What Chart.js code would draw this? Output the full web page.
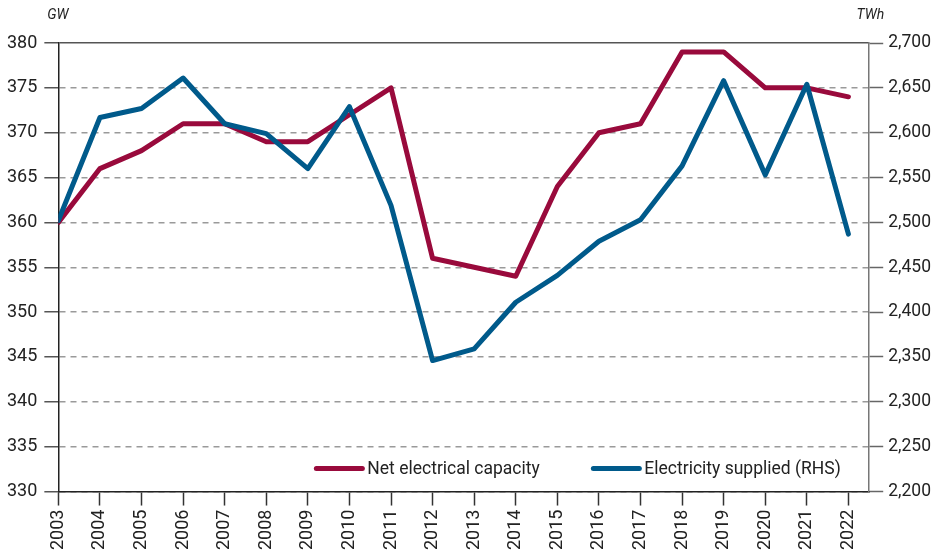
<!DOCTYPE html>
<html lang="en">
  <head>
    <meta charset="UTF-8" />
    <title>Net electrical capacity and electricity supplied</title>
    <style>
      html, body { margin: 0; padding: 0; background: #fff; }
      #wrap { width: 936px; height: 554px; }
    </style>
  </head>
  <body>
    <div id="wrap"><canvas id="myChart" width="936" height="554"></canvas></div>

    <script src="https://cdn.jsdelivr.net/npm/chart.js@4.4.1/dist/chart.umd.min.js"></script>
    <script>
      // values
      var years = [2003, 2004, 2005, 2006, 2007, 2008, 2009, 2010, 2011, 2012,
                   2013, 2014, 2015, 2016, 2017, 2018, 2019, 2020, 2021, 2022];
      var capacityGW = [360, 366, 368, 371, 371, 369, 369, 372, 375, 356,
                        355, 354, 364, 370, 371, 379, 379, 375, 375, 374];
      var suppliedTWh = [2502, 2617, 2627, 2661, 2610, 2599, 2560, 2629, 2519, 2346,
                         2359, 2411, 2441, 2479, 2503, 2563, 2658, 2553, 2654, 2487];
      var leftTicks = { min: 330, max: 380, step: 5 };
      var rightTicks = { min: 2200, max: 2700, step: 50 };

      var RED = "#990a3c";
      var BLUE = "#005a8b";
      var FONT = "Roboto, 'Liberation Sans', sans-serif";

      function pairs(vals) {
        return years.map(function (y, i) {
          return { x: y, y: vals[i] };
        });
      }

      // unit labels and in-plot legend
      var extras = {
        id: "extras",
        afterDraw: function (chart) {
          var ctx = chart.ctx;
          var area = chart.chartArea;
          ctx.save();
          ctx.fillStyle = "#222";
          ctx.font = "italic 14px " + FONT;
          ctx.textBaseline = "middle";
          ctx.textAlign = "left";
          ctx.fillText("GW", area.left - 11, 15);
          ctx.textAlign = "right";
          ctx.fillText("TWh", area.right + 15, 15);

          var items = [
            { label: chart.data.datasets[1].label, color: RED, x: area.left + 258 },
            { label: chart.data.datasets[0].label, color: BLUE, x: area.left + 535 },
          ];
          var ly = area.bottom - 23;
          ctx.font = "17.5px " + FONT;
          ctx.textAlign = "left";
          items.forEach(function (it) {
            ctx.strokeStyle = it.color;
            ctx.lineWidth = 5;
            ctx.lineCap = "round";
            ctx.beginPath();
            ctx.moveTo(it.x, ly);
            ctx.lineTo(it.x + 46, ly);
            ctx.stroke();
            ctx.fillStyle = "#222";
            ctx.fillText(it.label, it.x + 51, ly + 1);
          });
          ctx.restore();
        },
      };

      var ctx = document.getElementById("myChart").getContext("2d");
      var chart = new Chart(ctx, {
        type: "line",
        data: {
          datasets: [
            {
              label: "Electricity supplied (RHS)",
              data: pairs(suppliedTWh),
              yAxisID: "y2",
              borderColor: BLUE,
              borderWidth: 5,
              pointRadius: 0,
              tension: 0,
              borderJoinStyle: "round",
              borderCapStyle: "round",
              order: 0,
            },
            {
              label: "Net electrical capacity",
              data: pairs(capacityGW),
              yAxisID: "y",
              borderColor: RED,
              borderWidth: 5,
              pointRadius: 0,
              tension: 0,
              borderJoinStyle: "round",
              borderCapStyle: "round",
              order: 1,
            },
          ],
        },
        options: {
          responsive: false,
          animation: false,
          layout: { padding: { left: 0, right: 0, top: 43, bottom: 0 } },
          plugins: {
            legend: { display: false },
            tooltip: { enabled: false },
          },
          scales: {
            x: {
              type: "linear",
              min: years[0],
              max: years[years.length - 1] + 0.5,
              afterBuildTicks: function (axis) {
                // one tick per year, nothing at the half-year right edge
                axis.ticks = years.map(function (y) {
                  return { value: y };
                });
              },
              ticks: {
                stepSize: 1,
                autoSkip: false,
                minRotation: 90,
                maxRotation: 90,
                padding: 4,
                color: "#222",
                font: { family: FONT, size: 18 },
                callback: function (v) {
                  return String(v);
                },
              },
              grid: {
                drawOnChartArea: false,
                drawTicks: true,
                tickLength: 14,
                tickColor: "#333",
                tickWidth: 1.5,
              },
              border: { color: "#222", width: 1.5 },
            },
            y: {
              position: "left",
              min: leftTicks.min,
              max: leftTicks.max,
              ticks: {
                stepSize: leftTicks.step,
                padding: 7,
                color: "#222",
                font: { family: FONT, size: 18 },
              },
              grid: {
                color: function (c) {
                  return c.tick && c.tick.value === leftTicks.max ? "#555" : "#9a9a9a";
                },
                lineWidth: 1.5,
                tickLength: 14,
                tickColor: "#555",
                tickWidth: 1.5,
              },
              border: {
                color: "#222",
                width: 1.5,
                dash: function (c) {
                  return c.tick && c.tick.value === leftTicks.max ? [] : [6, 5];
                },
              },
            },
            y2: {
              position: "right",
              min: rightTicks.min,
              max: rightTicks.max,
              ticks: {
                stepSize: rightTicks.step,
                padding: 5,
                color: "#222",
                font: { family: FONT, size: 17.5 },
                callback: function (v) {
                  return v.toLocaleString("en-US");
                },
              },
              grid: {
                drawOnChartArea: false,
                tickLength: 14,
                tickColor: "#666",
                tickWidth: 1.5,
              },
              border: { color: "#777", width: 1.5 },
            },
          },
        },
        plugins: [extras],
      });
    </script>
  </body>
</html>
